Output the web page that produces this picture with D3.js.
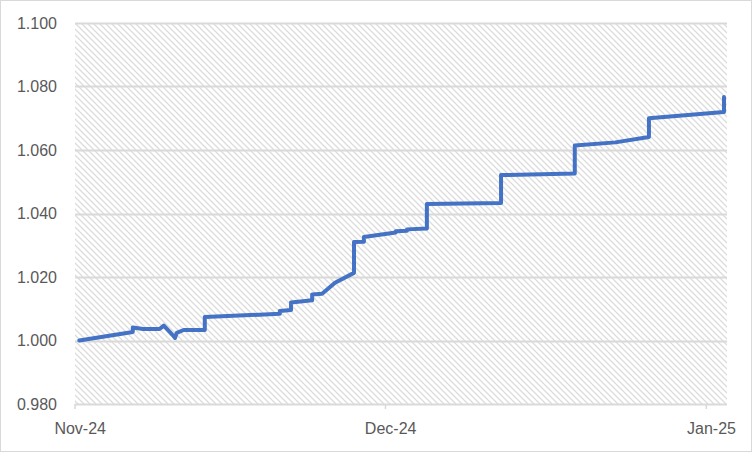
<!DOCTYPE html>
<html>
<head>
<meta charset="utf-8">
<script src="https://cdn.jsdelivr.net/npm/d3@7"></script>
<style>
  body { margin: 0; background: #fff; }
  text { font-family: "Liberation Sans", Arial, sans-serif; }
</style>
</head>
<body>
<div id="chart"></div>
<script>
// index value, timestamp = when each step happens
const stamps = [
  "2024-11-01 10:00", "2024-11-06 14:00", "2024-11-06 14:00", "2024-11-07 14:00",
  "2024-11-09 04:00", "2024-11-09 14:00", "2024-11-10 10:00", "2024-11-10 16:00",
  "2024-11-10 20:00", "2024-11-11 12:00", "2024-11-13 13:00", "2024-11-13 13:00",
  "2024-11-20 19:00", "2024-11-20 19:00", "2024-11-21 21:00", "2024-11-21 21:00",
  "2024-11-23 22:00", "2024-11-23 22:00", "2024-11-24 21:00", "2024-11-26 03:00",
  "2024-11-27 23:00", "2024-11-27 23:00", "2024-11-28 22:00", "2024-11-28 22:00",
  "2024-12-02 00:00", "2024-12-02 00:00", "2024-12-03 02:00", "2024-12-03 02:00",
  "2024-12-05 00:00", "2024-12-05 00:00", "2024-12-12 04:00", "2024-12-12 04:00",
  "2024-12-19 07:00", "2024-12-19 07:00", "2024-12-23 05:00", "2024-12-26 11:00",
  "2024-12-26 11:00", "2025-01-02 17:00", "2025-01-02 17:00"
];
const values = [
  1.0000, 1.0027, 1.0041, 1.0036,
  1.0036, 1.0047, 1.0018, 1.0008,
  1.0024, 1.0033, 1.0033, 1.0074,
  1.0084, 1.0093, 1.0096, 1.0120,
  1.0127, 1.0145, 1.0147, 1.0182,
  1.0213, 1.0310, 1.0311, 1.0326,
  1.0340, 1.0344, 1.0346, 1.0350,
  1.0353, 1.0430, 1.0433, 1.0521,
  1.0526, 1.0614, 1.0624, 1.0641,
  1.0700, 1.0720, 1.0767
];
const yTicks = [0.98, 1.00, 1.02, 1.04, 1.06, 1.08, 1.10];
const monthTicks = ["2024-11-01", "2024-12-01", "2025-01-01"];
const xRange = ["2024-11-01", "2025-01-03"];

const W = 752, H = 452;
const margin = {top: 23, right: 25, bottom: 48, left: 75};
const width = W - margin.left - margin.right;
const height = H - margin.top - margin.bottom;

const parseStamp = d3.timeParse("%Y-%m-%d %H:%M");
const parseDay = d3.timeParse("%Y-%m-%d");
const data = stamps.map((s, i) => ({t: parseStamp(s), v: values[i]}));

const svg = d3.select("#chart").append("svg")
  .attr("width", W)
  .attr("height", H);

// hatch fill of the plot area
const pat = svg.append("defs").append("pattern")
  .attr("id", "hatch")
  .attr("patternUnits", "userSpaceOnUse")
  .attr("width", 6)
  .attr("height", 6);
pat.append("path")
  .attr("d", "M0,0 L6,6 M-3,3 L3,9 M3,-3 L9,3")
  .attr("stroke", "#dcdcdc")
  .attr("stroke-width", 1.3);

svg.append("rect")
  .attr("x", 0.5).attr("y", 0.5)
  .attr("width", W - 1).attr("height", H - 1)
  .attr("fill", "#fff")
  .attr("stroke", "#d9d9d9");

const chart = svg.append("g")
  .attr("transform", `translate(${margin.left},${margin.top})`);

const x = d3.scaleTime()
  .domain(xRange.map(parseDay))
  .range([0, width]);
const y = d3.scaleLinear()
  .domain([yTicks[0], yTicks[yTicks.length - 1]])
  .range([height, 0]);

chart.append("rect")
  .attr("width", width)
  .attr("height", height)
  .attr("fill", "url(#hatch)");

// gridlines
chart.selectAll(".grid")
  .data(yTicks.slice(1))
  .join("line")
  .attr("class", "grid")
  .attr("x1", 0).attr("x2", width)
  .attr("y1", d => Math.round(y(d)) + 0.5)
  .attr("y2", d => Math.round(y(d)) + 0.5)
  .attr("stroke", "#d9d9d9")
  .attr("stroke-width", 2);

const yAxis = d3.axisLeft(y)
  .tickValues(yTicks)
  .tickFormat(d3.format(".3f"))
  .tickSize(0)
  .tickPadding(18);
chart.append("g")
  .call(yAxis)
  .call(g => g.select(".domain").remove())
  .selectAll("text")
  .attr("fill", "#595959")
  .style("font-size", "16px");

// x axis: ticks on month starts, labels centred on the day
const xg = chart.append("g")
  .attr("transform", `translate(0,${height})`);
xg.append("line")
  .attr("x1", 0).attr("x2", width)
  .attr("y1", 0.5).attr("y2", 0.5)
  .attr("stroke", "#d9d9d9")
  .attr("stroke-width", 2);
xg.selectAll(".tick-mark")
  .data(monthTicks.map(parseDay))
  .join("line")
  .attr("class", "tick-mark")
  .attr("x1", d => x(d)).attr("x2", d => x(d))
  .attr("y1", 0).attr("y2", 5)
  .attr("stroke", "#d9d9d9")
  .attr("stroke-width", 1.5);
xg.selectAll(".tick-label")
  .data(monthTicks.map(parseDay))
  .join("text")
  .attr("class", "tick-label")
  .attr("x", d => x(d3.timeHour.offset(d, 12)))
  .attr("y", 30)
  .attr("text-anchor", "middle")
  .attr("fill", "#595959")
  .style("font-size", "16px")
  .text(d => d3.timeFormat("%b-%y")(d));

const line = d3.line()
  .x(d => x(d.t))
  .y(d => y(d.v));

chart.append("path")
  .datum(data)
  .attr("d", line)
  .attr("fill", "none")
  .attr("stroke", "#4472c4")
  .attr("stroke-width", 4)
  .attr("stroke-linejoin", "round")
  .attr("stroke-linecap", "round");
</script>
</body>
</html>
